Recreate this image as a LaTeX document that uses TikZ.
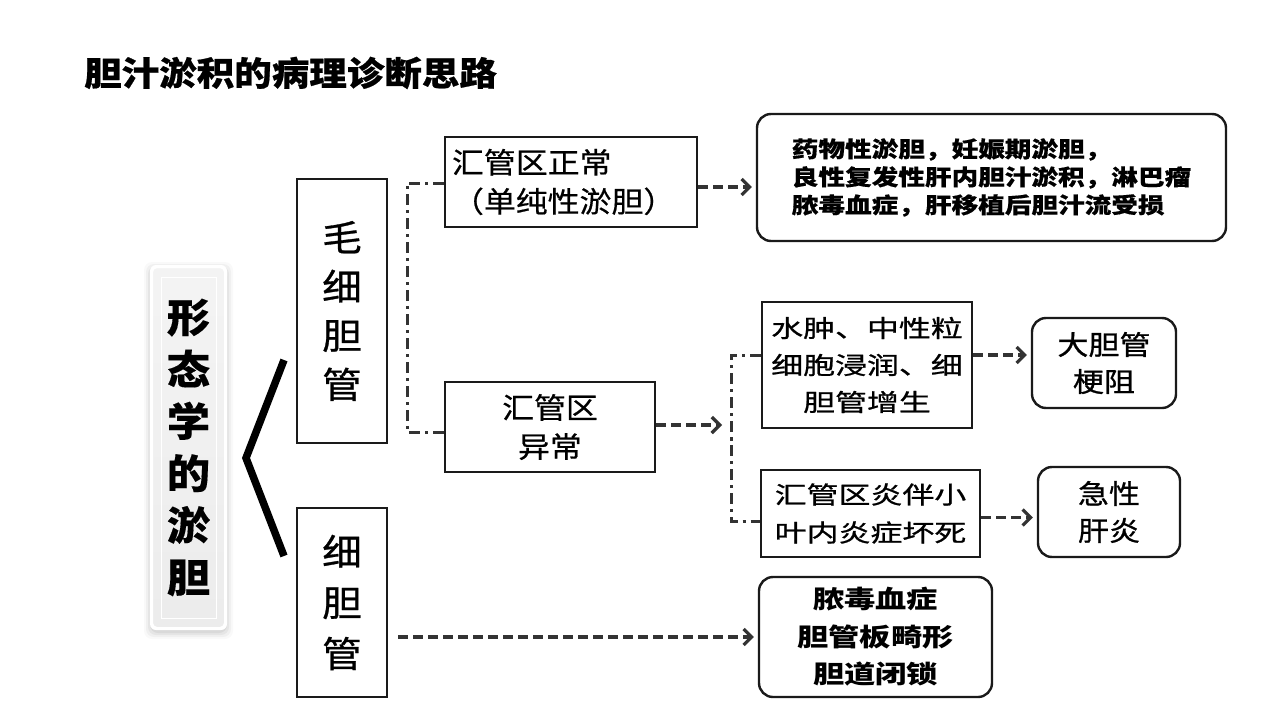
\documentclass[tikz,border=0pt]{standalone}
\usepackage{fontspec}
\setmainfont{Noto Sans CJK SC}
\usetikzlibrary{arrows.meta,calc}
\newcommand{\cjkfs}[3]{\fontsize{#1}{#2}\selectfont\addfontfeatures{FakeStretch=#3}}
\newcommand{\cjkfb}[4]{\fontsize{#1}{#2}\selectfont\addfontfeatures{FakeStretch=#3,FakeBold=#4}}
\definecolor{ln}{HTML}{333333}
\definecolor{bd}{HTML}{1A1A1A}
\begin{document}
\begin{tikzpicture}[x=1pt,y=-1pt,
  box/.style={draw=bd, line width=2.4pt, fill=white, inner sep=0pt, align=center, text=black},
  rbox/.style={box, rounded corners=14pt},
  sz/.style 2 args={minimum width=#1 pt, minimum height=#2 pt},
  dsh/.style={draw=ln, line width=3.2pt, dash pattern=on 10pt off 5pt},
  arr/.style={dsh, -{Straight Barb[length=8pt,width=16pt]}, shorten >=4pt},
  dd/.style={draw=ln, line width=3pt, dash pattern=on 11pt off 5pt on 3pt off 5pt},
  lbox/.style={draw=white, line width=2pt, top color=gray!9, bottom color=gray!15, rounded corners=5pt, inner sep=0pt, align=center},
]
\useasboundingbox (0,0) rectangle (1279,720);
\fill[white] (0,0) rectangle (1279,720);

% title
\node[anchor=west, inner sep=0pt, font=\bfseries\cjkfb{33.5}{40}{1.12}{0.6}] (T) at (84,73) {胆汁淤积的病理诊断思路};

% left box with glow
\foreach \g/\o in {8/0.025,6/0.035,4/0.045,2/0.05}{
  \fill[black, opacity=\o, rounded corners=8pt] (152-\g,267-\g+3) rectangle (225+\g,628+\g+3);
}
\fill[white, rounded corners=6pt] (150,265) rectangle (227,630);
\node[lbox, sz={73}{361}, font=\bfseries\cjkfb{40}{52}{1.08}{0.3}] (L) at (188.5,447.5) {形\\态\\学\\的\\淤\\胆};
\draw[white, line width=1pt] (161,277) rectangle (216,618);

% bracket
\draw[black, line width=7.5pt, line join=miter] (284,360) -- (246,458) -- (284,556);

% level 1
\node[box, sz={90}{264}, font=\cjkfb{36}{49}{1.1}{0.8}] (M) at (342,311) {毛\\细\\胆\\管};
\node[box, sz={90}{189}, font=\cjkfb{36}{51}{1.1}{0.8}] (X) at (342,602.5) {细\\胆\\管};

% level 2
\node[box, sz={252}{90}, text width=238pt, align=left, font=\cjkfb{29}{39}{1.1}{0.6}] (A) at (571,182) {汇管区正常\\（单纯性淤胆）};
\node[box, sz={210}{90}, font=\cjkfb{29}{39}{1.1}{0.6}] (B) at (550,427) {汇管区\\异常};

% level 3
\node[rbox, sz={469}{127}, font=\bfseries\cjkfb{22}{28}{1.21}{0.4}, align=left] (D) at (991.5,177.5) {药物性淤胆，妊娠期淤胆，\\良性复发性肝内胆汁淤积，淋巴瘤\\脓毒血症，肝移植后胆汁流受损};
\node[box, sz={210}{126}, font=\cjkfb{24}{37}{1.33}{0.9}] (E) at (867,365) {水肿、中性粒\\细胞浸润、细\\胆管增生};
\node[box, sz={219}{87}, font=\cjkfb{24}{38}{1.33}{0.9}] (F) at (870.5,513.5) {汇管区炎伴小\\叶内炎症坏死};
\node[rbox, sz={233}{120}, font=\bfseries\cjkfs{25}{37.5}{1.25}] (I) at (875.5,637) {脓毒血症\\胆管板畸形\\胆道闭锁};

% level 4
\node[rbox, sz={144}{90}, font=\cjkfb{27}{37}{1.15}{0.9}] (G) at (1104,363) {大胆管\\梗阻};
\node[rbox, sz={142}{90}, font=\cjkfb{27}{37}{1.15}{0.9}] (H) at (1109,512) {急性\\肝炎};

% connectors
\coordinate (j1) at (407,300);
\draw[dd] ([yshift=-1pt]A.west) -| (j1) |- ([yshift=-5pt]B.west);
\draw[arr] ([yshift=-5pt]A.east) -- ([yshift=-5pt]A.east -| D.west);
\coordinate (j2) at (726,425);
\draw[arr] ([yshift=2pt]B.east) -- (j2);
\coordinate (j3) at (731,440);
\draw[dd] ([yshift=10pt]E.west) -| (j3) |- ([yshift=-8pt]F.west);
\draw[arr] ([yshift=10pt]E.east) -- ([yshift=10pt]E.east -| G.west);
\draw[arr] ([yshift=-4pt]F.east) -- ([yshift=-4pt]F.east -| H.west);
\draw[arr] ($(X.east |- I.west)+(10,0)$) -- (I.west);
\end{tikzpicture}
\end{document}
